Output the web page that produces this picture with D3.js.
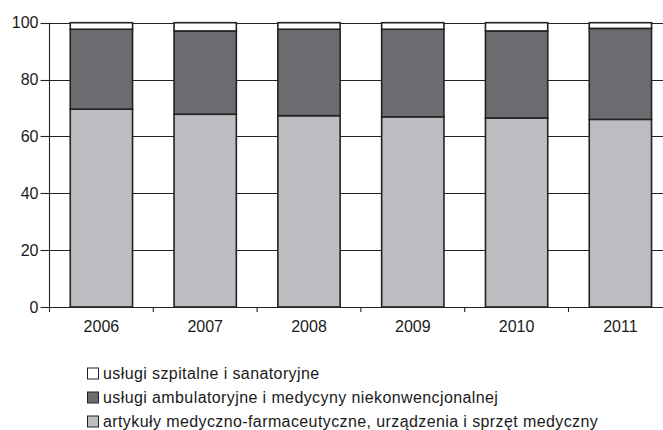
<!DOCTYPE html>
<html>
<head>
<meta charset="utf-8">
<script src="https://cdn.jsdelivr.net/npm/d3@7"></script>
<style>
  body { margin: 0; background: #fff; }
  svg text { font-family: "Liberation Sans", Arial, Helvetica, sans-serif; fill: #1a1a1a; }
</style>
</head>
<body>
<div id="chart"></div>
<script>
// chart data
const years = ["2006", "2007", "2008", "2009", "2010", "2011"];
const artykuly = [69.6, 67.8, 67.3, 66.9, 66.5, 66.0];
const ambulatoryjne = [28.1, 29.3, 30.4, 30.8, 30.6, 32.0];
const szpitalne = [2.3, 2.9, 2.3, 2.3, 2.9, 2.0];
const yTicks = [0, 20, 40, 60, 80, 100];
const seriesNames = [
  "usługi szpitalne i sanatoryjne",
  "usługi ambulatoryjne i medycyny niekonwencjonalnej",
  "artykuły medyczno-farmaceutyczne, urządzenia i sprzęt medyczny"
];

const width = 663, height = 430;
const colors = { art: "#bcbdc1", amb: "#6b6c70", szp: "#ffffff" };
const lineColor = "#222";

const svg = d3.select("#chart").append("svg")
  .attr("width", width)
  .attr("height", height);

// plot runs a bit past the right edge of the picture, like the original
const x = d3.scaleBand()
  .domain(years)
  .range([49.5, 672.3])
  .paddingInner(0.4)
  .paddingOuter(0.2);

const y = d3.scaleLinear()
  .domain([0, 100])
  .range([307, 22.7]);

// stack the three series bottom -> top
const rows = years.map((yr, i) => ({ year: yr, art: artykuly[i], amb: ambulatoryjne[i], szp: szpitalne[i] }));
const stack = d3.stack().keys(["art", "amb", "szp"])(rows);

// grid lines (horizontal, behind bars)
svg.append("g")
  .selectAll("line")
  .data(yTicks)
  .join("line")
  .attr("x1", x.range()[0])
  .attr("x2", x.range()[1])
  .attr("y1", d => Math.round(y(d)) + 0.5)
  .attr("y2", d => Math.round(y(d)) + 0.5)
  .attr("stroke", lineColor)
  .attr("stroke-width", 1.1);

// bars
svg.append("g")
  .selectAll("g")
  .data(stack)
  .join("g")
  .attr("fill", d => colors[d.key])
  .selectAll("rect")
  .data(d => d)
  .join("rect")
  .attr("x", d => x(d.data.year))
  .attr("width", x.bandwidth())
  .attr("y", d => y(d[1]))
  .attr("height", d => y(d[0]) - y(d[1]))
  .attr("stroke", lineColor)
  .attr("stroke-width", 1.6);

// y axis
const yAxis = svg.append("g").attr("transform", "translate(49.5,0)");
yAxis.append("line")
  .attr("y1", y(100)).attr("y2", y(0))
  .attr("stroke", lineColor).attr("stroke-width", 1.1);
yAxis.selectAll(".tick")
  .data(yTicks)
  .join("line")
  .attr("x1", -9).attr("x2", 0)
  .attr("y1", d => Math.round(y(d)) + 0.5)
  .attr("y2", d => Math.round(y(d)) + 0.5)
  .attr("stroke", lineColor).attr("stroke-width", 1.1);
yAxis.selectAll("text")
  .data(yTicks)
  .join("text")
  .attr("x", -11)
  .attr("y", d => y(d))
  .attr("dy", "0.35em")
  .attr("text-anchor", "end")
  .style("font-size", "16px")
  .text(d => d);

// x axis ticks at band edges
const edges = years.map(d => x(d) - x.step() * x.paddingInner() / 2);
edges.push(edges[edges.length - 1] + x.step());
svg.append("g")
  .selectAll("line")
  .data(edges)
  .join("line")
  .attr("x1", d => d).attr("x2", d => d)
  .attr("y1", y(0)).attr("y2", y(0) + 5)
  .attr("stroke", lineColor).attr("stroke-width", 1.1);

svg.append("g")
  .selectAll("text")
  .data(years)
  .join("text")
  .attr("x", d => x(d) + x.bandwidth() / 2)
  .attr("y", 332)
  .attr("text-anchor", "middle")
  .style("font-size", "16px")
  .text(d => d);

// legend
const legendColors = [colors.szp, colors.amb, colors.art];
const legend = svg.append("g")
  .selectAll("g")
  .data(seriesNames)
  .join("g")
  .attr("transform", (d, i) => `translate(87,${373 + i * 24})`);
legend.append("rect")
  .attr("x", 0.5).attr("y", -5)
  .attr("width", 11).attr("height", 11)
  .attr("fill", (d, i) => legendColors[i])
  .attr("stroke", lineColor).attr("stroke-width", 1);
legend.append("text")
  .attr("x", 16)
  .attr("y", 0)
  .attr("dy", "0.35em")
  .style("font-size", "16px")
  .style("letter-spacing", "0.4px")
  .text(d => d);
</script>
</body>
</html>
